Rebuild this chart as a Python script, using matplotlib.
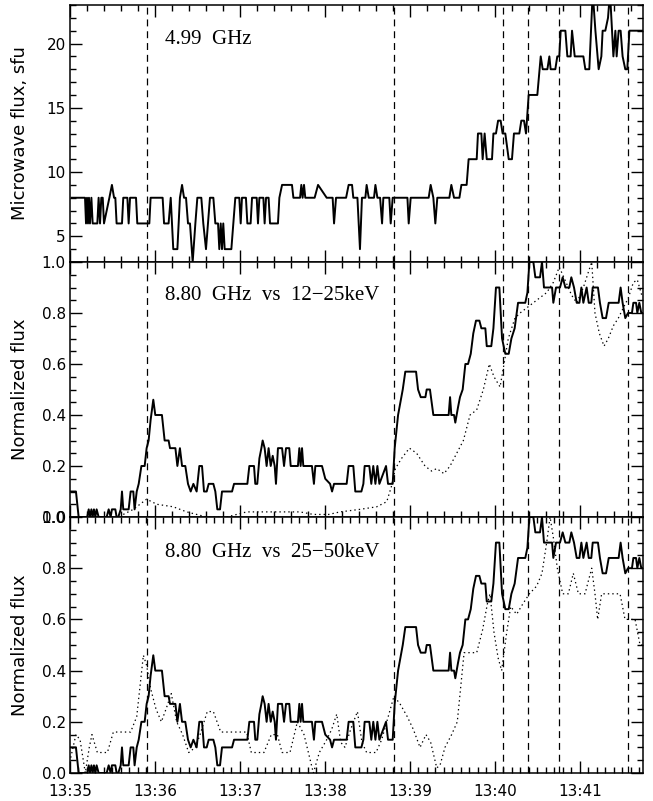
import numpy as np
import matplotlib
matplotlib.use("Agg")
import matplotlib.pyplot as plt
from matplotlib.ticker import MultipleLocator, FuncFormatter

# ── data (seconds after 13:35:00) ──────────────────────────────────────────────
# 4.99 GHz microwave flux, sfu
t_499 = [1.2, 10.6, 11.3, 12.0, 12.7, 13.4, 14.1, 15.1, 16.0, 19.3, 20.2, 21.2, 22.1,
         23.1, 24.0, 27.8, 29.6, 31.1, 32.0, 32.9, 36.7, 37.6, 40.5, 41.4, 42.4, 46.6,
         47.5, 56.0, 56.9, 65.4, 66.4, 69.6, 71.1, 72.9, 75.8, 77.6, 79.1, 80.5, 81.9,
         83.3, 84.7, 86.6, 88.5, 89.9, 92.7, 94.1, 96.0, 97.4, 98.8, 101.2, 102.6, 104.5,
         105.4, 106.4, 107.3, 108.2, 109.2, 113.9, 115.3, 116.7, 119.5, 120.5, 121.4,
         124.2, 125.2, 127.5, 128.5, 131.8, 132.7, 133.7, 136.5, 137.4, 138.4, 140.2,
         141.2, 146.8, 147.8, 149.7, 156.7, 157.7, 162.4, 163.3, 164.2, 165.2, 166.1,
         172.7, 175.1, 181.2, 185.4, 186.4, 187.8, 194.9, 196.7, 199.1, 200.0, 202.9,
         203.8, 204.7, 206.1, 208.5, 209.4, 210.9, 214.6, 215.6, 217.0, 218.9, 220.3,
         221.2, 225.4, 226.4, 227.8, 238.2, 239.1, 240.5, 253.2, 254.6, 256.5, 257.9,
         259.3, 267.8, 269.2, 271.1, 274.9, 276.3, 280.0, 281.4, 287.1, 288.0, 290.4,
         291.3, 292.7, 294.2, 297.9, 298.9, 300.7, 302.2, 304.0, 305.4, 307.3, 309.7,
         312.0, 313.4, 317.2, 318.6, 320.5, 321.9, 323.8, 329.9, 332.3, 333.7, 337.0,
         338.4, 339.3, 342.6, 344.0, 345.4, 346.4, 349.7, 351.1, 353.4, 354.4, 356.3,
         362.4, 363.8, 366.6, 369.0, 370.9, 373.2, 375.1, 376.0, 377.9, 379.8, 381.2,
         383.6, 385.0, 385.9, 387.3, 388.7, 390.1, 392.0, 393.4, 394.9, 404.7]
flux_499 = [8, 8, 6, 8, 6, 8, 6, 8, 6, 6, 8, 6, 8,
            8, 6, 8, 9, 8, 8, 6, 6, 8, 8, 6, 8, 8,
            6, 6, 8, 8, 6, 6, 8, 4, 4, 8, 9, 8, 8,
            6, 6, 3, 6, 8, 8, 6, 4, 6, 8, 8, 6, 6,
            4, 6, 4, 6, 4, 4, 6, 8, 8, 6, 8,
            8, 6, 6, 8, 8, 6, 8, 8, 6, 8, 8,
            6, 6, 8, 9, 9, 8, 8, 9, 8, 9, 8,
            8, 9, 8, 8, 6, 8, 8, 9, 9, 8, 8,
            6, 4, 8, 8, 9, 8, 8, 9, 8, 8, 6,
            8, 8, 6, 8, 8, 6, 8, 8, 9, 8, 6,
            8, 8, 9, 8, 8, 9, 9, 11, 11, 13, 13,
            11, 13, 11, 11, 13, 13, 14, 14, 13, 13, 11,
            11, 13, 13, 14, 14, 13, 16, 16, 19, 18, 18,
            19, 18, 18, 19, 19, 21, 21, 19, 19, 21, 19,
            19, 18, 18, 24, 21, 18, 19, 21, 21, 22, 24,
            19, 21, 19, 21, 21, 19, 18, 18, 21, 21]

# 8.80 GHz normalized flux
t_880 = [0.5, 4.2, 6.1, 12.2, 13.2, 14.1, 15.1, 16.0, 16.9, 17.9, 18.8, 20.2, 25.9,
         27.3, 28.7, 29.6, 32.0, 32.9, 34.1, 35.8, 36.7, 37.6, 41.4, 42.8, 44.7, 45.6,
         47.1, 48.5, 50.4, 52.7, 54.1, 55.5, 56.9, 58.8, 60.2, 64.9, 66.8, 69.6, 70.6,
         74.4, 75.8, 77.6, 79.1, 81.4, 83.3, 85.2, 87.1, 89.4, 91.3, 93.2, 94.6, 96.5,
         97.9, 101.2, 102.6, 104.0, 105.9, 107.3, 114.4, 115.8, 125.2, 126.6, 129.9,
         130.8, 132.2, 133.7, 135.1, 136.0, 137.4, 138.8, 140.2, 141.7, 143.1, 144.5,
         145.4, 146.8, 149.7, 151.1, 152.5, 154.8, 155.8, 160.9, 161.9, 162.8, 163.8,
         164.7, 170.8, 172.2, 173.2, 177.9, 180.2, 183.6, 185.0, 186.4, 195.3, 196.7,
         200.0, 201.4, 205.7, 207.1, 208.0, 211.3, 212.7, 214.1, 215.6, 217.0, 218.4,
         223.1, 224.5, 227.8, 229.2, 231.6, 234.9, 236.7, 244.3, 245.7, 247.6, 250.9,
         251.8, 254.1, 256.5, 267.3, 268.3, 269.2, 271.1, 272.0, 273.9, 275.3, 277.2,
         279.1, 281.0, 282.9, 284.7, 286.6, 289.0, 290.4, 293.2, 294.2, 297.4, 298.9,
         300.7, 303.1, 305.0, 307.3, 309.7, 311.6, 313.9, 316.3, 321.4, 322.9, 324.3,
         327.1, 328.5, 331.8, 333.2, 334.6, 340.3, 341.2, 343.1, 345.9, 347.8, 349.7,
         352.5, 353.9, 355.8, 357.7, 359.6, 361.0, 362.4, 364.7, 366.2, 368.0, 369.0,
         372.7, 374.1, 376.0, 378.4, 380.3, 387.3, 388.7, 390.1, 392.0, 393.9, 396.7,
         397.7, 399.6, 400.5, 401.9, 403.3, 404.7]
flux_880 = [0.10, 0.10, 0.0, 0.0, 0.03, 0.0, 0.03, 0.0, 0.03, 0.0, 0.03, 0.0, 0.0,
            0.03, 0.0, 0.03, 0.03, 0.0, 0.0, 0.03, 0.10, 0.03, 0.03, 0.10, 0.10, 0.03,
            0.10, 0.13, 0.20, 0.20, 0.27, 0.30, 0.38, 0.46, 0.40, 0.40, 0.30, 0.30, 0.27,
            0.27, 0.20, 0.27, 0.20, 0.20, 0.13, 0.10, 0.13, 0.10, 0.20, 0.20, 0.10, 0.10,
            0.13, 0.13, 0.10, 0.03, 0.03, 0.10, 0.10, 0.13, 0.13, 0.20, 0.20,
            0.13, 0.13, 0.23, 0.27, 0.30, 0.27, 0.20, 0.27, 0.20, 0.24, 0.20,
            0.13, 0.27, 0.27, 0.20, 0.27, 0.27, 0.20, 0.20, 0.27, 0.20, 0.27,
            0.20, 0.20, 0.13, 0.20, 0.20, 0.15, 0.13, 0.10, 0.13, 0.13, 0.20,
            0.20, 0.10, 0.10, 0.13, 0.20, 0.20, 0.13, 0.20, 0.13, 0.20, 0.13,
            0.20, 0.13, 0.13, 0.27, 0.40, 0.50, 0.57, 0.57, 0.50, 0.47, 0.47,
            0.50, 0.50, 0.40, 0.40, 0.47, 0.40, 0.40, 0.37, 0.43, 0.47, 0.50,
            0.60, 0.60, 0.64, 0.72, 0.77, 0.77, 0.74, 0.74, 0.67, 0.67, 0.74,
            0.90, 0.90, 0.70, 0.64, 0.64, 0.70, 0.74, 0.84, 0.84, 0.88, 1.00,
            1.00, 0.94, 0.94, 1.00, 0.90, 0.90, 0.84, 0.90, 0.90, 0.94, 0.90,
            0.90, 0.94, 0.90, 0.84, 0.84, 0.90, 0.84, 0.90, 0.84, 0.84, 0.90,
            0.90, 0.84, 0.78, 0.78, 0.84, 0.84, 0.90, 0.84, 0.78, 0.80, 0.80,
            0.84, 0.84, 0.80, 0.84, 0.80, 0.80]

# 12-25 keV normalized count rate
t_1225 = [37.6, 44.7, 54.1, 61.2, 72.9, 82.4, 96.5, 110.6, 124.7, 138.8, 150.5, 162.4,
          171.8, 182.6, 190.6, 204.7, 216.5, 223.6, 226.9, 229.7, 234.1, 239.6, 244.7,
          250.6, 255.3, 258.9, 264.0, 268.3, 273.0, 277.7, 282.4, 287.1, 291.8, 296.0,
          299.3, 303.6, 306.4, 309.4, 314.1, 317.7, 322.4, 329.4, 336.5, 341.2, 345.4,
          349.4, 354.1, 357.7, 362.4, 365.9, 368.3, 370.6, 373.7, 377.0, 380.0, 383.6,
          387.1, 390.6, 394.2, 397.7, 400.5, 403.6]
hxr_1225 = [0.01, 0.03, 0.07, 0.05, 0.04, 0.02, 0.0, 0.0, 0.02, 0.02, 0.02, 0.02,
            0.01, 0.01, 0.02, 0.03, 0.04, 0.06, 0.12, 0.19, 0.23, 0.27, 0.25,
            0.20, 0.18, 0.19, 0.17, 0.20, 0.25, 0.30, 0.40, 0.42, 0.50, 0.60,
            0.55, 0.51, 0.60, 0.70, 0.78, 0.80, 0.82, 0.85, 0.88, 0.92, 0.98,
            0.93, 0.87, 0.84, 0.90, 0.96, 1.00, 0.80, 0.72, 0.67, 0.70, 0.75,
            0.78, 0.82, 0.86, 0.92, 0.93, 0.87]

# 25-50 keV normalized count rate
t_2550 = [0.5, 4.2, 7.1, 10.8, 13.6, 15.5, 19.3, 26.4, 30.6, 42.8, 47.1, 51.8, 54.1,
          56.9, 60.7, 64.5, 67.8, 71.5, 75.3, 79.5, 83.8, 88.5, 91.8, 96.9, 101.2,
          106.4, 124.7, 128.0, 136.9, 142.1, 146.4, 149.7, 155.3, 160.5, 165.2, 171.8,
          176.0, 181.2, 184.7, 188.3, 191.1, 194.1, 198.1, 202.9, 206.1, 209.4, 216.0,
          220.0, 223.6, 228.7, 233.0, 238.1, 242.4, 247.1, 251.3, 254.6, 258.9, 261.2,
          264.7, 269.4, 273.4, 278.2, 287.1, 291.3, 294.6, 296.5, 299.3, 302.2, 304.7,
          308.3, 311.1, 315.3, 319.6, 324.3, 329.4, 333.2, 336.5, 338.9, 341.2, 344.0,
          347.8, 351.8, 355.3, 358.9, 363.6, 365.9, 368.3, 370.6, 372.5, 375.3, 388.3,
          391.8, 398.9, 402.4, 404.7]
hxr_2550 = [0.06, 0.15, 0.13, 0.0, 0.10, 0.15, 0.08, 0.08, 0.16, 0.16, 0.22, 0.46, 0.42,
            0.33, 0.25, 0.20, 0.25, 0.31, 0.20, 0.15, 0.08, 0.10, 0.15, 0.24, 0.24,
            0.16, 0.16, 0.08, 0.08, 0.15, 0.15, 0.08, 0.08, 0.20, 0.15, 0.0,
            0.08, 0.13, 0.17, 0.23, 0.12, 0.10, 0.17, 0.24, 0.12, 0.08, 0.08,
            0.13, 0.20, 0.30, 0.27, 0.22, 0.17, 0.10, 0.15, 0.12, 0.02, 0.03,
            0.10, 0.15, 0.20, 0.47, 0.47, 0.56, 0.66, 0.70, 0.55, 0.45, 0.40,
            0.55, 0.65, 0.62, 0.66, 0.70, 0.73, 0.78, 0.90, 1.00, 0.92, 0.80,
            0.70, 0.70, 0.78, 0.70, 0.70, 0.75, 0.80, 0.70, 0.60, 0.70, 0.70,
            0.60, 0.60, 0.50, 0.50]

# vertical marker times
dash_times = [54.4, 228.7, 305.6, 323.3, 345.2, 393.9]

minute_ticks = [0, 60, 120, 180, 240, 300, 360]
minute_labels = ["13:35", "13:36", "13:37", "13:38", "13:39", "13:40", "13:41"]

T_MAX = 404.5

plt.rcParams["font.family"] = "DejaVu Sans"
plt.rcParams["lines.scale_dashes"] = False

fig = plt.figure(figsize=(6.53, 8.01), dpi=100)
L, W = 70 / 653, 573 / 653
ax_top = fig.add_axes([L, 1 - 262 / 801, W, 257 / 801])
ax_mid = fig.add_axes([L, 1 - 517 / 801, W, 255 / 801])
ax_bot = fig.add_axes([L, 1 - 773 / 801, W, 256 / 801])


def style_ax(ax, xminor):
    ax.set_xlim(0, T_MAX)
    ax.xaxis.set_major_locator(plt.FixedLocator(minute_ticks))
    ax.xaxis.set_minor_locator(MultipleLocator(xminor))
    ax.tick_params(which="both", direction="in", top=True, right=True,
                   width=1.0, labelsize=11)
    ax.tick_params(which="major", length=8.5)
    ax.tick_params(which="minor", length=4.3)
    ax.tick_params(axis="y", pad=3)
    for sp in ax.spines.values():
        sp.set_linewidth(1.1)
    for tx in dash_times:
        ax.axvline(tx, color="black", lw=0.9, dashes=(5, 3.5), zorder=1)


# ── top: 4.99 GHz ──
ax_top.plot(t_499, flux_499, color="black", lw=1.4, zorder=3)
ax_top.set_ylim(3, 23)
ax_top.yaxis.set_major_locator(MultipleLocator(5))
ax_top.yaxis.set_minor_locator(MultipleLocator(1))
style_ax(ax_top, 12)
ax_top.tick_params(axis="x", labelbottom=False)
ax_top.set_yticks([5, 10, 15, 20])
ax_top.set_ylabel("Microwave flux, sfu", fontsize=13)
ax_top.text(0.166, 0.864, "4.99  GHz", transform=ax_top.transAxes,
            fontsize=15, family="Liberation Serif", va="center", ha="left")

# ── middle: 8.80 GHz vs 12-25 keV ──
ax_mid.plot(t_880, flux_880, color="black", lw=1.4, zorder=3)
ax_mid.plot(t_1225, hxr_1225, color="black", lw=0.9, ls=(0, (1, 2.2)), zorder=2)
ax_mid.set_ylim(0, 1)
ax_mid.yaxis.set_major_locator(MultipleLocator(0.2))
ax_mid.yaxis.set_minor_locator(MultipleLocator(0.05))
ax_mid.yaxis.set_major_formatter(FuncFormatter(lambda v, p: f"{v:.1f}"))
style_ax(ax_mid, 12)
ax_mid.tick_params(axis="x", labelbottom=False)
ax_mid.set_ylabel("Normalized flux", fontsize=13)
ax_mid.text(0.166, 0.87, "8.80  GHz  vs  12\u221225keV", transform=ax_mid.transAxes,
            fontsize=15, family="Liberation Serif", va="center", ha="left")

# ── bottom: 8.80 GHz vs 25-50 keV ──
ax_bot.plot(t_880, flux_880, color="black", lw=1.4, zorder=3)
ax_bot.plot(t_2550, hxr_2550, color="black", lw=0.9, ls=(0, (1, 2.2)), zorder=2)
ax_bot.set_ylim(0, 1)
ax_bot.yaxis.set_major_locator(MultipleLocator(0.2))
ax_bot.yaxis.set_minor_locator(MultipleLocator(0.05))
ax_bot.yaxis.set_major_formatter(FuncFormatter(lambda v, p: f"{v:.1f}"))
style_ax(ax_bot, 6)
ax_bot.set_xticklabels(minute_labels)
ax_bot.tick_params(axis="x", pad=8)
ax_bot.set_ylabel("Normalized flux", fontsize=13)
ax_bot.text(0.166, 0.863, "8.80  GHz  vs  25\u221250keV", transform=ax_bot.transAxes,
            fontsize=15, family="Liberation Serif", va="center", ha="left")

for ax in (ax_top, ax_mid, ax_bot):
    ax.yaxis.set_label_coords(-0.072, 0.5)
    ax.set_clip_on(True)

fig.savefig("out.png", dpi=100)
